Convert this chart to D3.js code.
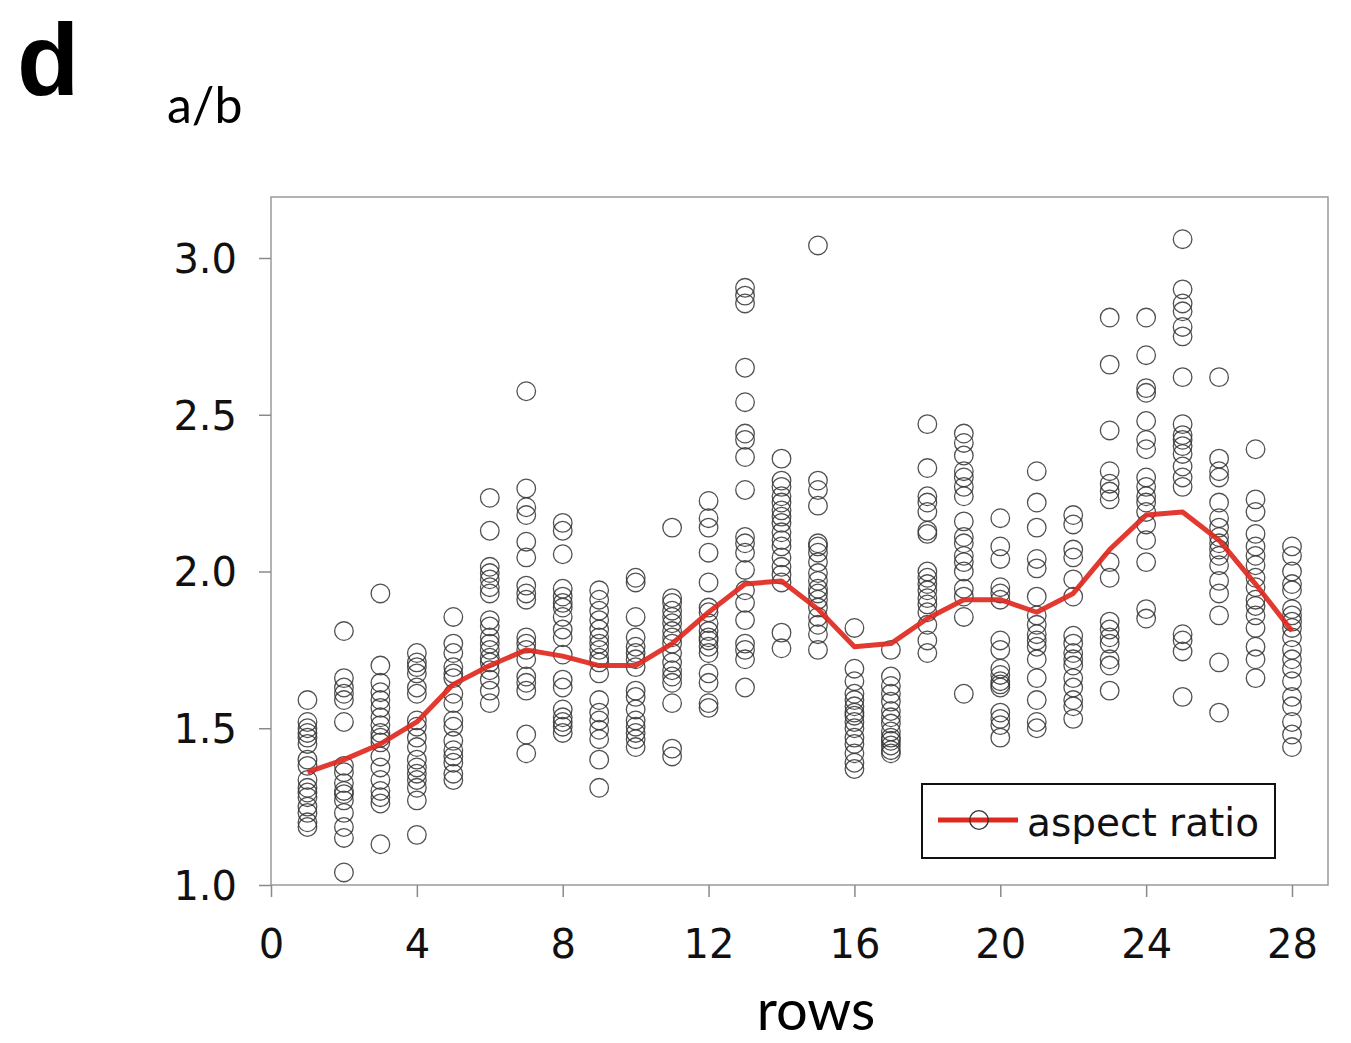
<!DOCTYPE html>
<html>
<head>
<meta charset="utf-8">
<script src="https://cdn.jsdelivr.net/npm/d3@7"></script>
<style>
  html, body { margin: 0; padding: 0; background: #fff; }
  svg { display: block; }
</style>
</head>
<body>
<svg id="chart" width="1351" height="1043"></svg>
<script>
// ---- Data ----
const rows = [1,2,3,4,5,6,7,8,9,10,11,12,13,14,15,16,17,18,19,20,21,22,23,24,25,26,27,28];

// Per-row individual aspect ratio observations
const obs01 = [1.59,1.52,1.50,1.485,1.47,1.45,1.40,1.38,1.335,1.31,1.295,1.28,1.25,1.23,1.20,1.185];
const obs02 = [1.81,1.66,1.63,1.61,1.59,1.52,1.38,1.36,1.325,1.30,1.29,1.27,1.23,1.185,1.15,1.04];
const obs03 = [1.93,1.70,1.645,1.615,1.59,1.565,1.535,1.51,1.485,1.47,1.455,1.41,1.375,1.335,1.30,1.28,1.26,1.13];
const obs04 = [1.74,1.71,1.695,1.675,1.63,1.61,1.525,1.505,1.47,1.44,1.40,1.375,1.355,1.335,1.31,1.27,1.16];
const obs05 = [1.855,1.77,1.74,1.695,1.675,1.66,1.61,1.58,1.525,1.505,1.46,1.43,1.41,1.39,1.355,1.335];
const obs06 = [2.235,2.13,2.015,1.995,1.975,1.95,1.93,1.845,1.825,1.79,1.77,1.75,1.725,1.71,1.685,1.655,1.62,1.58];
const obs07 = [2.575,2.265,2.205,2.18,2.095,2.045,1.955,1.93,1.91,1.79,1.77,1.75,1.72,1.665,1.645,1.62,1.48,1.42];
const obs08 = [2.155,2.13,2.055,1.945,1.92,1.90,1.885,1.855,1.815,1.79,1.735,1.655,1.63,1.56,1.535,1.52,1.505,1.485];
const obs09 = [1.94,1.91,1.875,1.845,1.815,1.79,1.77,1.75,1.725,1.71,1.675,1.59,1.55,1.525,1.495,1.465,1.40,1.31];
const obs10 = [1.98,1.965,1.855,1.79,1.76,1.74,1.72,1.695,1.62,1.60,1.56,1.525,1.505,1.485,1.465,1.44];
const obs11 = [2.14,1.915,1.90,1.875,1.855,1.835,1.81,1.79,1.77,1.74,1.71,1.685,1.665,1.645,1.58,1.435,1.41];
const obs12 = [2.225,2.17,2.14,2.06,1.965,1.885,1.87,1.835,1.81,1.79,1.78,1.76,1.74,1.675,1.645,1.58,1.565];
const obs13 = [2.905,2.88,2.855,2.65,2.54,2.44,2.42,2.365,2.26,2.11,2.09,2.06,2.005,1.94,1.90,1.845,1.77,1.75,1.72,1.63];
const obs14 = [2.36,2.29,2.27,2.24,2.22,2.195,2.175,2.155,2.125,2.10,2.08,2.045,2.015,1.99,1.965,1.805,1.755];
const obs15 = [3.04,2.29,2.26,2.21,2.09,2.08,2.06,2.03,1.995,1.97,1.945,1.93,1.91,1.885,1.855,1.83,1.80,1.75];
const obs16 = [1.82,1.69,1.65,1.61,1.59,1.57,1.55,1.54,1.52,1.50,1.47,1.45,1.42,1.39,1.37];
const obs17 = [1.75,1.665,1.635,1.61,1.585,1.555,1.535,1.515,1.49,1.47,1.46,1.445,1.43,1.42];
const obs18 = [2.47,2.33,2.24,2.22,2.19,2.13,2.12,2.00,1.98,1.96,1.94,1.915,1.895,1.87,1.83,1.78,1.74];
const obs19 = [2.44,2.41,2.37,2.32,2.30,2.27,2.24,2.16,2.11,2.09,2.05,2.03,2.00,1.945,1.92,1.855,1.61];
const obs20 = [2.17,2.08,2.04,1.95,1.93,1.91,1.78,1.75,1.69,1.67,1.65,1.64,1.63,1.55,1.53,1.51,1.47];
const obs21 = [2.32,2.22,2.14,2.04,2.01,1.92,1.86,1.83,1.80,1.78,1.76,1.72,1.66,1.59,1.52,1.50];
const obs22 = [2.18,2.15,2.07,2.045,1.975,1.92,1.795,1.77,1.74,1.72,1.70,1.66,1.63,1.59,1.57,1.53];
const obs23 = [2.81,2.66,2.45,2.32,2.28,2.255,2.23,2.03,1.98,1.84,1.815,1.79,1.77,1.72,1.70,1.62];
const obs24 = [2.81,2.69,2.585,2.57,2.48,2.42,2.39,2.30,2.27,2.24,2.22,2.19,2.15,2.10,2.03,1.88,1.85];
const obs25 = [3.06,2.90,2.855,2.83,2.78,2.75,2.62,2.47,2.435,2.42,2.40,2.375,2.335,2.30,2.27,1.80,1.78,1.745,1.60];
const obs26 = [2.62,2.36,2.32,2.30,2.22,2.17,2.14,2.11,2.09,2.07,2.05,2.02,1.97,1.93,1.86,1.71,1.55];
const obs27 = [2.39,2.23,2.19,2.12,2.08,2.05,2.02,1.98,1.95,1.91,1.89,1.86,1.82,1.76,1.72,1.66];
const obs28 = [2.08,2.05,2.00,1.96,1.94,1.88,1.86,1.84,1.82,1.79,1.75,1.72,1.69,1.65,1.60,1.57,1.52,1.48,1.44];

const observations = [obs01,obs02,obs03,obs04,obs05,obs06,obs07,obs08,obs09,obs10,obs11,obs12,obs13,obs14,
                      obs15,obs16,obs17,obs18,obs19,obs20,obs21,obs22,obs23,obs24,obs25,obs26,obs27,obs28];

// Mean aspect ratio per row (red line)
const meanRatio = [1.36,1.40,1.45,1.52,1.64,1.70,1.75,1.73,1.70,1.70,1.77,1.87,1.96,1.97,1.88,1.76,1.77,1.85,1.91,1.91,1.87,1.93,2.07,2.18,2.19,2.10,1.96,1.81];

const xTicks = [0,4,8,12,16,20,24,28];
const yTicks = [1.0,1.5,2.0,2.5,3.0];

// ---- Layout ----
const svg = d3.select("#chart");
const plot = {left: 271, top: 197, right: 1328, bottom: 885};

const x = d3.scaleLinear().domain([0, 29]).range([plot.left, plot.left + 29 * (1292 - 271) / 28]);
const y = d3.scaleLinear().domain([1.0, 3.0]).range([plot.bottom, 258]);

// frame
svg.append("rect")
  .attr("x", plot.left).attr("y", plot.top)
  .attr("width", plot.right - plot.left).attr("height", plot.bottom - plot.top)
  .attr("fill", "none").attr("stroke", "#9a9a9a").attr("stroke-width", 1.5);

// axes
const xAxis = svg.append("g")
  .attr("transform", `translate(0,${plot.bottom})`)
  .call(d3.axisBottom(x).tickValues(xTicks).tickSize(12).tickPadding(33).tickFormat(d3.format("d")));
const yAxis = svg.append("g")
  .attr("transform", `translate(${plot.left},0)`)
  .call(d3.axisLeft(y).tickValues(yTicks).tickSize(12).tickPadding(22).tickFormat(d3.format(".1f")));

[xAxis, yAxis].forEach(g => {
  g.select(".domain").remove();
  g.selectAll(".tick line").attr("stroke", "#8a8a8a").attr("stroke-width", 1.5);
  g.selectAll(".tick text")
    .attr("fill", "#111")
    .style("font-family", "'DejaVu Sans', Verdana, sans-serif")
    .style("font-size", "40px");
});
yAxis.selectAll(".tick text").attr("dy", "0.36em");

// circles
const pts = [];
observations.forEach((arr, i) => arr.forEach(v => pts.push({r: rows[i], v})));
svg.append("g").selectAll("circle").data(pts).join("circle")
  .attr("cx", d => x(d.r)).attr("cy", d => y(d.v)).attr("r", 9.3)
  .attr("fill", "none").attr("stroke", "#333").attr("stroke-opacity", 0.85).attr("stroke-width", 1.3);

// mean line
const line = d3.line().x((d, i) => x(rows[i])).y(d => y(d));
svg.append("path").datum(meanRatio)
  .attr("d", line).attr("fill", "none")
  .attr("stroke", "#e0281e").attr("stroke-width", 5)
  .attr("stroke-linejoin", "round").attr("stroke-opacity", 0.92);

// legend
const lg = svg.append("g");
lg.append("rect").attr("x", 922).attr("y", 784).attr("width", 353).attr("height", 74)
  .attr("fill", "#fff").attr("stroke", "#111").attr("stroke-width", 2);
lg.append("line").attr("x1", 938).attr("x2", 1018).attr("y1", 820).attr("y2", 820)
  .attr("stroke", "#e0281e").attr("stroke-width", 5);
lg.append("circle").attr("cx", 979).attr("cy", 820).attr("r", 9.3)
  .attr("fill", "none").attr("stroke", "#333").attr("stroke-width", 1.3);
lg.append("text").attr("x", 1027).attr("y", 836)
  .style("font-family", "'DejaVu Sans', Verdana, sans-serif").style("font-size", "39px")
  .attr("fill", "#111").text("aspect ratio");

// titles
svg.append("text").attr("x", 17).attr("y", 95)
  .style("font-family", "'Liberation Sans', Arial, sans-serif").style("font-weight", "bold")
  .style("font-size", "102px").attr("fill", "#000").text("d");
svg.append("text").attr("x", 167).attr("y", 123)
  .style("font-family", "Lato, sans-serif").style("font-size", "50px")
  .attr("fill", "#000").text("a/b");
svg.append("text").attr("x", 816).attr("y", 1030).attr("text-anchor", "middle")
  .style("font-family", "Lato, sans-serif").style("font-size", "56px")
  .attr("fill", "#000").text("rows");
</script>
</body>
</html>
